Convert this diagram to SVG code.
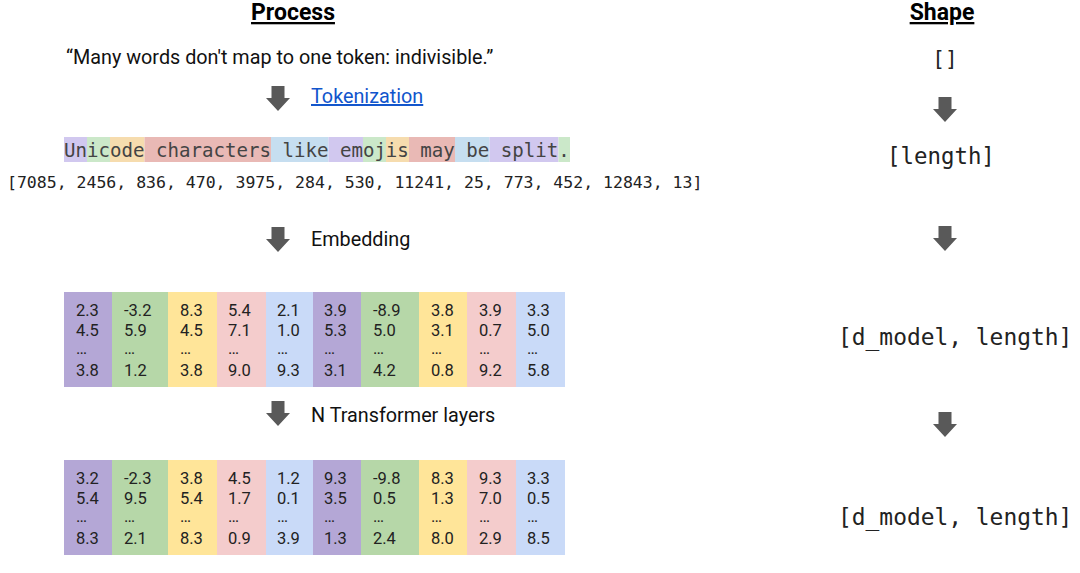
<svg xmlns="http://www.w3.org/2000/svg" xmlns:xlink="http://www.w3.org/1999/xlink" width="1080" height="573" viewBox="0 0 1080 573">
<style>
.title{font-family:Roboto,"Liberation Sans",sans-serif;font-weight:bold;font-size:23px;fill:#000;text-decoration:underline}
.sans{font-family:Roboto,"Liberation Sans",sans-serif;font-size:19.8px;fill:#111}
.link{font-family:Roboto,"Liberation Sans",sans-serif;font-size:19.8px;fill:#1155cc;text-decoration:underline}
.mono{font-family:"DejaVu Sans Mono","Liberation Mono",monospace;fill:#222}
.tok{font-family:"DejaVu Sans Mono","Liberation Mono",monospace;font-size:19.1px;fill:#444}
.val{font-family:Roboto,"Liberation Sans",sans-serif;font-size:16.5px;fill:#222}
.arrow{fill:#595959}
.cP{fill:#b4a7d6}.cG{fill:#b6d7a8}.cY{fill:#ffe599}.cR{fill:#f4cccc}.cB{fill:#c9daf8}
.tP{fill:#d1c8ef}.tG{fill:#cbe8c9}.tO{fill:#f6dcae}.tR{fill:#e9b9b5}.tB{fill:#c6def0}
</style>
<defs>
<path id="dn" d="M-6.5 0 H6.5 V12 H12 L0 25 L-12 12 H-6.5 Z"/>
</defs>

<g id="process-title"><text class="title" x="293" y="20" text-anchor="middle">Process</text></g>
<g id="shape-title"><text class="title" x="942" y="20" text-anchor="middle">Shape</text></g>

<g id="input-text"><text class="sans" x="66" y="64">“Many words don't map to one token: indivisible.”</text></g>

<g id="tokenization-label"><text class="link" x="311" y="103">Tokenization</text></g>

<g id="tokens">
<rect class="tP" x="64" y="137" width="23" height="25"/>
<rect class="tG" x="87" y="137" width="23" height="25"/>
<rect class="tO" x="110" y="137" width="34.5" height="25"/>
<rect class="tR" x="144.5" y="137" width="126.5" height="25"/>
<rect class="tB" x="271" y="137" width="57.5" height="25"/>
<rect class="tP" x="328.5" y="137" width="34.5" height="25"/>
<rect class="tG" x="363" y="137" width="23" height="25"/>
<rect class="tO" x="386" y="137" width="23" height="25"/>
<rect class="tR" x="409" y="137" width="46" height="25"/>
<rect class="tB" x="455" y="137" width="34.5" height="25"/>
<rect class="tP" x="489.5" y="137" width="69" height="25"/>
<rect class="tG" x="558.5" y="137" width="11.5" height="25"/>
<text class="tok" x="64" y="157" xml:space="preserve">Unicode characters like emojis may be split.</text>
</g>

<g id="token-ids"><text class="mono" x="7" y="188" font-size="16.5">[7085, 2456, 836, 470, 3975, 284, 530, 11241, 25, 773, 452, 12843, 13]</text></g>

<g id="embedding-label"><text class="sans" x="311" y="246">Embedding</text></g>

<g id="embeddings">
<rect class="cP" x="64" y="292" width="48" height="95"/>
<rect class="cG" x="112" y="292" width="56" height="95"/>
<rect class="cY" x="168" y="292" width="49" height="95"/>
<rect class="cR" x="217" y="292" width="49" height="95"/>
<rect class="cB" x="266" y="292" width="47" height="95"/>
<rect class="cP" x="313" y="292" width="48" height="95"/>
<rect class="cG" x="361" y="292" width="58" height="95"/>
<rect class="cY" x="419" y="292" width="48" height="95"/>
<rect class="cR" x="467" y="292" width="49" height="95"/>
<rect class="cB" x="516" y="292" width="49" height="95"/>
<g class="val">
<text x="76" y="316"><tspan x="76">2.3</tspan><tspan x="76" dy="20">4.5</tspan><tspan x="76" dy="18">…</tspan><tspan x="76" dy="22">3.8</tspan></text>
<text x="124" y="316"><tspan x="124">-3.2</tspan><tspan x="124" dy="20">5.9</tspan><tspan x="124" dy="18">…</tspan><tspan x="124" dy="22">1.2</tspan></text>
<text x="180" y="316"><tspan x="180">8.3</tspan><tspan x="180" dy="20">4.5</tspan><tspan x="180" dy="18">…</tspan><tspan x="180" dy="22">3.8</tspan></text>
<text x="228" y="316"><tspan x="228">5.4</tspan><tspan x="228" dy="20">7.1</tspan><tspan x="228" dy="18">…</tspan><tspan x="228" dy="22">9.0</tspan></text>
<text x="277" y="316"><tspan x="277">2.1</tspan><tspan x="277" dy="20">1.0</tspan><tspan x="277" dy="18">…</tspan><tspan x="277" dy="22">9.3</tspan></text>
<text x="324" y="316"><tspan x="324">3.9</tspan><tspan x="324" dy="20">5.3</tspan><tspan x="324" dy="18">…</tspan><tspan x="324" dy="22">3.1</tspan></text>
<text x="373" y="316"><tspan x="373">-8.9</tspan><tspan x="373" dy="20">5.0</tspan><tspan x="373" dy="18">…</tspan><tspan x="373" dy="22">4.2</tspan></text>
<text x="431" y="316"><tspan x="431">3.8</tspan><tspan x="431" dy="20">3.1</tspan><tspan x="431" dy="18">…</tspan><tspan x="431" dy="22">0.8</tspan></text>
<text x="479" y="316"><tspan x="479">3.9</tspan><tspan x="479" dy="20">0.7</tspan><tspan x="479" dy="18">…</tspan><tspan x="479" dy="22">9.2</tspan></text>
<text x="527" y="316"><tspan x="527">3.3</tspan><tspan x="527" dy="20">5.0</tspan><tspan x="527" dy="18">…</tspan><tspan x="527" dy="22">5.8</tspan></text>
</g>
</g>

<g id="transformer-label"><text class="sans" x="311" y="422">N Transformer layers</text></g>

<g id="outputs">
<rect class="cP" x="64" y="460" width="48" height="95"/>
<rect class="cG" x="112" y="460" width="56" height="95"/>
<rect class="cY" x="168" y="460" width="49" height="95"/>
<rect class="cR" x="217" y="460" width="49" height="95"/>
<rect class="cB" x="266" y="460" width="47" height="95"/>
<rect class="cP" x="313" y="460" width="48" height="95"/>
<rect class="cG" x="361" y="460" width="58" height="95"/>
<rect class="cY" x="419" y="460" width="48" height="95"/>
<rect class="cR" x="467" y="460" width="49" height="95"/>
<rect class="cB" x="516" y="460" width="49" height="95"/>
<g class="val">
<text x="76" y="484"><tspan x="76">3.2</tspan><tspan x="76" dy="20">5.4</tspan><tspan x="76" dy="18">…</tspan><tspan x="76" dy="22">8.3</tspan></text>
<text x="124" y="484"><tspan x="124">-2.3</tspan><tspan x="124" dy="20">9.5</tspan><tspan x="124" dy="18">…</tspan><tspan x="124" dy="22">2.1</tspan></text>
<text x="180" y="484"><tspan x="180">3.8</tspan><tspan x="180" dy="20">5.4</tspan><tspan x="180" dy="18">…</tspan><tspan x="180" dy="22">8.3</tspan></text>
<text x="228" y="484"><tspan x="228">4.5</tspan><tspan x="228" dy="20">1.7</tspan><tspan x="228" dy="18">…</tspan><tspan x="228" dy="22">0.9</tspan></text>
<text x="277" y="484"><tspan x="277">1.2</tspan><tspan x="277" dy="20">0.1</tspan><tspan x="277" dy="18">…</tspan><tspan x="277" dy="22">3.9</tspan></text>
<text x="324" y="484"><tspan x="324">9.3</tspan><tspan x="324" dy="20">3.5</tspan><tspan x="324" dy="18">…</tspan><tspan x="324" dy="22">1.3</tspan></text>
<text x="373" y="484"><tspan x="373">-9.8</tspan><tspan x="373" dy="20">0.5</tspan><tspan x="373" dy="18">…</tspan><tspan x="373" dy="22">2.4</tspan></text>
<text x="431" y="484"><tspan x="431">8.3</tspan><tspan x="431" dy="20">1.3</tspan><tspan x="431" dy="18">…</tspan><tspan x="431" dy="22">8.0</tspan></text>
<text x="479" y="484"><tspan x="479">9.3</tspan><tspan x="479" dy="20">7.0</tspan><tspan x="479" dy="18">…</tspan><tspan x="479" dy="22">2.9</tspan></text>
<text x="527" y="484"><tspan x="527">3.3</tspan><tspan x="527" dy="20">0.5</tspan><tspan x="527" dy="18">…</tspan><tspan x="527" dy="22">8.5</tspan></text>
</g>
</g>

<g id="shape-empty"><text class="mono" x="945" y="66" font-size="21" text-anchor="middle">[]</text></g>
<g id="shape-length"><text class="mono" x="887" y="164" font-size="22.4">[length]</text></g>
<g id="shape-dmodel-1"><text class="mono" x="838" y="345" font-size="22.9">[d_model, length]</text></g>
<g id="shape-dmodel-2"><text class="mono" x="838" y="525" font-size="22.9">[d_model, length]</text></g>

<g id="connectors" class="arrow">
<use xlink:href="#dn" x="278" y="86"/>
<use xlink:href="#dn" x="278" y="227"/>
<use xlink:href="#dn" x="278" y="401"/>
<use xlink:href="#dn" x="945" y="97"/>
<use xlink:href="#dn" x="945" y="226"/>
<use xlink:href="#dn" x="945" y="412"/>
</g>
</svg>
